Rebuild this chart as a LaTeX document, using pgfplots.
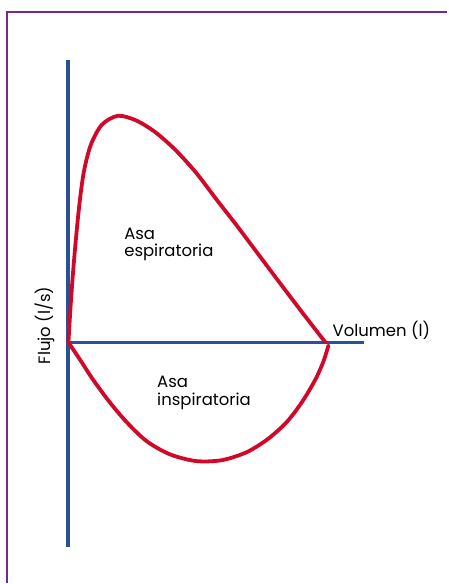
\documentclass[border=0pt]{standalone}
\usepackage{pgfplots}
\pgfplotsset{compat=1.18}
\usepackage{fontspec}
\setmainfont{Poppins}
\definecolor{axblue}{RGB}{42,80,150}
\definecolor{loopred}{RGB}{210,8,40}
\definecolor{frameviolet}{RGB}{118,40,140}
\begin{document}
\begin{tikzpicture}
\begin{axis}[
  width=448pt, height=584pt, scale only axis,
  xmin=0, xmax=448, ymin=0, ymax=584,
  y dir=reverse,
  hide axis, clip=false,
]
\path (axis cs:0,0) rectangle (axis cs:448,584);
% frame
\draw[frameviolet, line width=2pt] (axis cs:7.5,584) -- (axis cs:7.5,11.7) -- (axis cs:448,11.7);
% axes
\addplot[axblue, line width=4pt, line cap=butt] coordinates {(68,60) (68,548)};
\addplot[axblue, line width=3.6pt, line cap=butt] coordinates {(68,343) (365,343)};
% expiratory loop
\addplot[loopred, line width=3.8pt, smooth, line cap=round, line join=round] coordinates {
(68.5,344) (70.5,310) (73,275) (76,240) (79.5,205) (84,172) (91,145) (102,125) (118,116)
(136,120.5) (155,132) (175,149.5) (196,172.5) (217,200) (238,227) (259,255) (280,283)
(302,312) (326,343)};
% inspiratory loop
\addplot[loopred, line width=3.8pt, smooth, line cap=round, line join=round] coordinates {
(68.5,343) (80,360) (93,380) (110,403) (127,423) (147,442) (170,455) (196,461.8)
(222,461) (247,453) (268,440) (287,423) (303,402) (316,380) (324,362) (329,346)};
% labels
\node[anchor=base west, inner sep=0, font=\fontsize{16.5}{19}\selectfont] at (axis cs:333,337) {Volumen (l)};
\node[anchor=base west, inner sep=0, rotate=90, font=\fontsize{16.5}{19}\selectfont] at (axis cs:51,365) {Flujo (l/s)};
\node[anchor=base west, inner sep=0, font=\fontsize{16.5}{19}\selectfont] at (axis cs:124.3,240) {Asa};
\node[anchor=base west, inner sep=0, font=\fontsize{16.5}{19}\selectfont] at (axis cs:124.3,257.3) {espiratoria};
\node[anchor=base west, inner sep=0, font=\fontsize{16.5}{19}\selectfont] at (axis cs:157.3,388.3) {Asa};
\node[anchor=base west, inner sep=0, font=\fontsize{16.5}{19}\selectfont] at (axis cs:157.3,405.7) {inspiratoria};
\end{axis}
\end{tikzpicture}
\end{document}
